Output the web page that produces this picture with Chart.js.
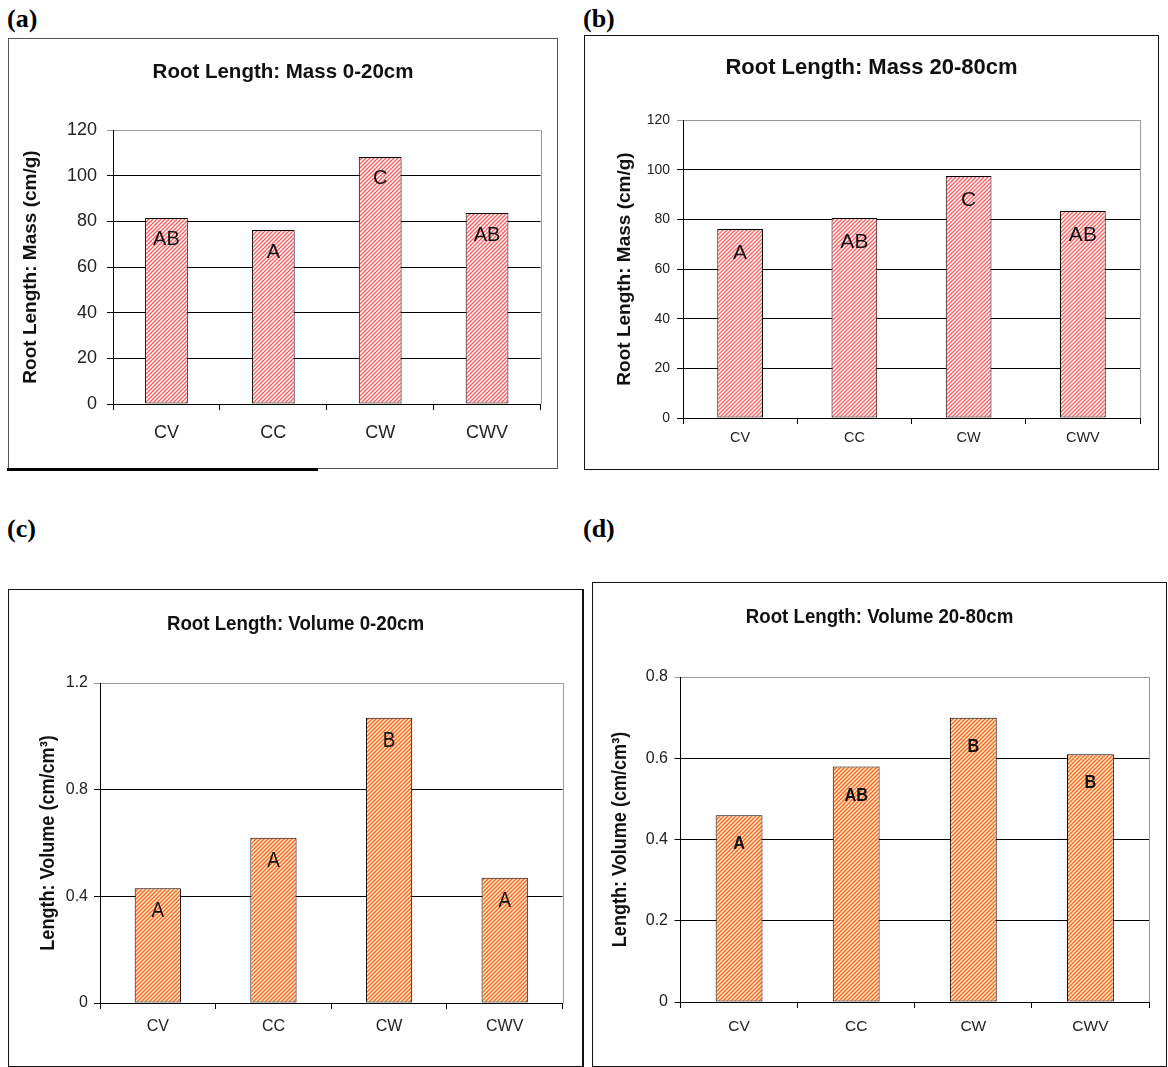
<!DOCTYPE html>
<html>
<head>
<meta charset="utf-8">
<script src="https://cdn.jsdelivr.net/npm/chart.js@4.4.1/dist/chart.umd.min.js"></script>
<style>
  body { margin: 0; background: #fff; width: 1168px; height: 1067px; position: relative; overflow: hidden; }
  .tag { position: absolute; font: bold 26px 'Liberation Serif', 'Times New Roman', serif; line-height: 26px; color: #000; }
  .box { position: absolute; box-sizing: border-box; border: 1px solid #111; background: #fff; }
  .box canvas { position: absolute; left: 0; top: 0; }
</style>
</head>
<body>
<div class="tag" style="left:7px; top:6px">(a)</div>
<div class="tag" style="left:583px; top:6px">(b)</div>
<div class="tag" style="left:7px; top:516px">(c)</div>
<div class="tag" style="left:583px; top:516px">(d)</div>

<div class="box" style="left:8px; top:38px; width:550px; height:431px; border-color:#555">
  <canvas id="chartA" width="548" height="429"></canvas>
</div>
<div style="position:absolute; left:7px; top:468px; width:311px; height:3px; background:#000"></div>
<div class="box" style="left:584px; top:35px; width:575px; height:435px">
  <canvas id="chartB" width="573" height="433"></canvas>
</div>
<div class="box" style="left:8px; top:589px; width:576px; height:478px; border-right-width:2px">
  <canvas id="chartC" width="573" height="476"></canvas>
</div>
<div class="box" style="left:592px; top:582px; width:575px; height:485px">
  <canvas id="chartD" width="573" height="483"></canvas>
</div>

<script>
// Data
const categories = ['CV', 'CC', 'CW', 'CWV'];

const massTop = [81.5, 76.2, 108.2, 83.6];   // (a) 0-20cm
const massSub = [76.1, 80.5, 97.4, 83.4];    // (b) 20-80cm
const volTop = [0.43, 0.62, 1.07, 0.47];     // (c) 0-20cm
const volSub = [0.46, 0.58, 0.70, 0.61];     // (d) 20-80cm

const lettersA = ['AB', 'A', 'C', 'AB'];
const lettersB = ['A', 'AB', 'C', 'AB'];
const lettersC = ['A', 'A', 'B', 'A'];
const lettersD = ['A', 'AB', 'B', 'B'];

const massTicks = [0, 20, 40, 60, 80, 100, 120];
const volTopTicks = [0, 0.4, 0.8, 1.2];
const volSubTicks = [0, 0.2, 0.4, 0.6, 0.8];

const SANS = "'Liberation Sans', Arial, sans-serif";

// diagonal hatch fill like the old Excel pattern
function makeHatch(bg, fg) {
  const n = 4;
  const c = document.createElement('canvas');
  c.width = n; c.height = n;
  const g = c.getContext('2d');
  g.fillStyle = bg;
  g.fillRect(0, 0, n, n);
  g.strokeStyle = fg;
  g.lineWidth = 1.3;
  g.beginPath();
  g.moveTo(0, n); g.lineTo(n, 0);
  g.moveTo(-1, 1); g.lineTo(1, -1);
  g.moveTo(n - 1, n + 1); g.lineTo(n + 1, n - 1);
  g.stroke();
  return g.createPattern(c, 'repeat');
}

// text squeezed sideways, to stand in for the narrow Excel font
function squeezedText(ctx, text, x, y, sx, rot) {
  ctx.save();
  ctx.translate(x, y);
  if (rot) ctx.rotate(rot);
  ctx.scale(sx, 1);
  ctx.fillText(text, 0, 0);
  ctx.restore();
}

// titles, significance letters and the grey right edge of the plot
const panelDecor = {
  id: 'panelDecor',
  afterDraw(chart, args, o) {
    const { ctx, chartArea: ca } = chart;
    ctx.save();
    ctx.strokeStyle = '#999';
    ctx.lineWidth = 1;
    ctx.beginPath();
    const rx = Math.round(ca.right) + 0.5;
    ctx.moveTo(rx, ca.top);
    ctx.lineTo(rx, ca.bottom);
    ctx.stroke();

    ctx.fillStyle = '#111';
    ctx.textAlign = 'center';
    ctx.textBaseline = 'middle';
    ctx.font = o.titleFont;
    squeezedText(ctx, o.title, chart.width / 2, o.titleY, o.titleSqueeze);

    ctx.font = o.yTitleFont;
    squeezedText(ctx, o.yTitle, o.yTitleX, (ca.top + ca.bottom) / 2, o.squeeze, -Math.PI / 2);

    ctx.font = o.letterFont;
    chart.getDatasetMeta(0).data.forEach((bar, i) => {
      squeezedText(ctx, o.letters[i], bar.x, bar.y + o.letterDy, o.squeeze);
    });
    ctx.restore();
  }
};

function makeChart(id, p) {
  const ctx = document.getElementById(id).getContext('2d');
  return new Chart(ctx, {
    type: 'bar',
    data: {
      labels: categories,
      datasets: [{
        data: p.values,
        backgroundColor: p.fill,
        borderColor: '#000',
        borderWidth: 1,
        borderSkipped: false,
        barPercentage: 0.4,
        categoryPercentage: 1.0
      }]
    },
    options: {
      responsive: false,
      animation: false,
      layout: { padding: { left: 0, right: p.pad.r, top: p.pad.t, bottom: 0 } },
      plugins: {
        legend: { display: false },
        tooltip: { enabled: false },
        panelDecor: {
          title: p.title,
          titleY: p.titleY,
          titleFont: p.titleFont,
          titleSqueeze: p.titleSqueeze,
          yTitle: p.yTitle,
          yTitleX: p.yTitleX,
          yTitleFont: p.yTitleFont,
          letters: p.letters,
          letterFont: p.letterFont,
          letterDy: p.letterDy,
          squeeze: p.squeeze
        }
      },
      scales: {
        x: {
          afterFit: s => { s.height = p.pad.b; },
          grid: { drawOnChartArea: false, drawTicks: true, tickLength: 6, color: '#000' },
          border: { color: '#000', width: 1 },
          ticks: { color: '#222', padding: p.xPad, font: { family: SANS, size: p.xSize } }
        },
        y: {
          min: 0,
          max: p.max,
          afterFit: s => { s.width = p.pad.l; },
          afterBuildTicks: s => { s.ticks = p.ticks.map(v => ({ value: v })); },
          grid: {
            tickLength: 6,
            color: c => (c.tick && c.tick.value === p.max ? '#999' : '#000')
          },
          border: { color: '#000', width: 1 },
          ticks: { color: '#222', padding: p.yPad, font: { family: SANS, size: p.ySize } }
        }
      }
    },
    plugins: [panelDecor]
  });
}

const redHatch = makeHatch('#ffffff', '#ff5a5a');
const orangeHatch = makeHatch('#fff2b0', '#ff5a35');

makeChart('chartA', {
  values: massTop, letters: lettersA, ticks: massTicks, max: 120, fill: redHatch,
  title: 'Root Length: Mass 0-20cm', yTitle: 'Root Length: Mass (cm/g)',
  titleFont: "bold 20.5px " + SANS, titleY: 33, titleSqueeze: 1,
  yTitleFont: "bold 19px " + SANS, yTitleX: 21.5,
  letterFont: "20px " + SANS, letterDy: 22, squeeze: 1,
  pad: { l: 104, t: 91, r: 16.5, b: 64 },
  xSize: 18, xPad: 12, ySize: 18, yPad: 10
});

makeChart('chartB', {
  values: massSub, letters: lettersB, ticks: massTicks, max: 120, fill: redHatch,
  title: 'Root Length: Mass 20-80cm', yTitle: 'Root Length: Mass (cm/g)',
  titleFont: "bold 22px " + SANS, titleY: 32, titleSqueeze: 1,
  yTitleFont: "bold 19px " + SANS, yTitleX: 40,
  letterFont: "21px " + SANS, letterDy: 24, squeeze: 1,
  pad: { l: 98, t: 84, r: 18, b: 51 },
  xSize: 14.5, xPad: 5, ySize: 14, yPad: 7
});

makeChart('chartC', {
  values: volTop, letters: lettersC, ticks: volTopTicks, max: 1.2, fill: orangeHatch,
  title: 'Root Length: Volume 0-20cm', yTitle: 'Length: Volume (cm/cm³)',
  titleFont: "bold 21px " + SANS, titleY: 34, titleSqueeze: 0.89,
  yTitleFont: "bold 21px " + SANS, yTitleX: 39,
  letterFont: "22px " + SANS, letterDy: 23, squeeze: 0.86,
  pad: { l: 91, t: 93, r: 19.5, b: 63 },
  xSize: 16, xPad: 8, ySize: 16, yPad: 6
});

makeChart('chartD', {
  values: volSub, letters: lettersD, ticks: volSubTicks, max: 0.8, fill: orangeHatch,
  title: 'Root Length: Volume 20-80cm', yTitle: 'Length: Volume (cm/cm³)',
  titleFont: "bold 21px " + SANS, titleY: 34, titleSqueeze: 0.89,
  yTitleFont: "bold 21px " + SANS, yTitleX: 27.5,
  letterFont: "bold 19px " + SANS, letterDy: 29, squeeze: 0.86,
  pad: { l: 87.5, t: 94, r: 17, b: 64 },
  xSize: 15.5, xPad: 9, ySize: 16, yPad: 6.5
});
</script>
</body>
</html>
